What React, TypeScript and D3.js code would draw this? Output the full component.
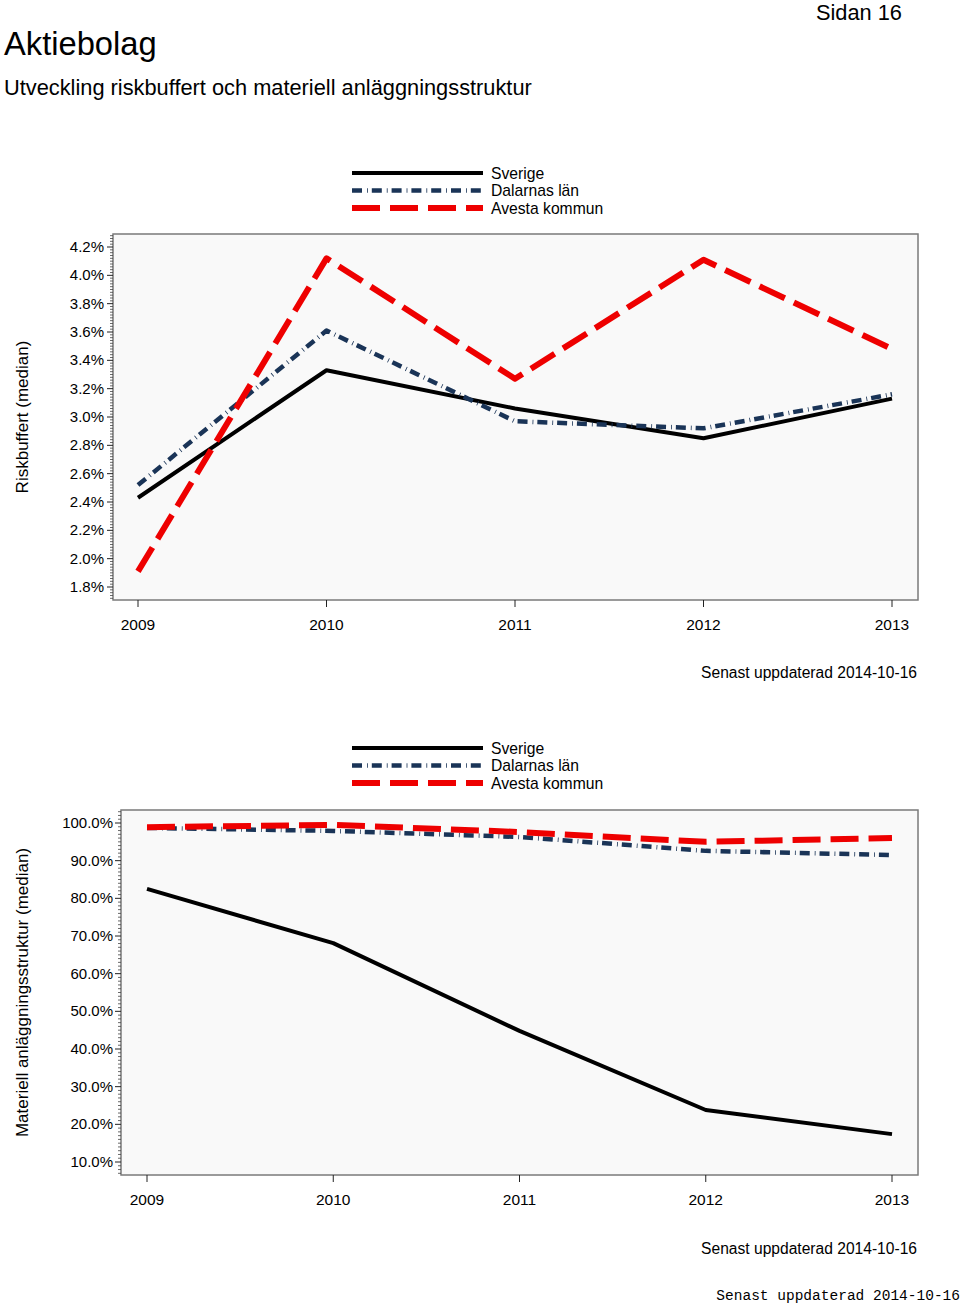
import React from "react";
import * as d3 from "d3";

const years = [2009, 2010, 2011, 2012, 2013];
const seriesNames = ["Sverige", "Dalarnas län", "Avesta kommun"];

const risk_sverige = [2.43, 3.33, 3.06, 2.85, 3.13];
const risk_dalarna = [2.52, 3.61, 2.97, 2.92, 3.16];
const risk_avesta = [1.91, 4.12, 3.27, 4.11, 3.48];

const mat_sverige = [82.5, 68.1, 44.8, 23.8, 17.4];
const mat_dalarna = [98.7, 97.9, 96.3, 92.6, 91.5];
const mat_avesta = [98.9, 99.5, 97.6, 95.0, 96.0];

const riskTicks = [1.8, 2.0, 2.2, 2.4, 2.6, 2.8, 3.0, 3.2, 3.4, 3.6, 3.8, 4.0, 4.2];
const matTicks = [10, 20, 30, 40, 50, 60, 70, 80, 90, 100];

const styles = [
  { color: "#000000", width: 4, dash: "none" },
  { color: "#1a3457", width: 4.5, dash: "10 5 0.8 4" },
  { color: "#ee0000", width: 6, dash: "28 10" },
];

const FONT = "'Liberation Sans', Arial, sans-serif";

type PanelProps = {
  legendY: number;
  x0: number;
  x1: number;
  y0: number;
  y1: number;
  xFirst: number;
  xLast: number;
  tickFirstY: number;
  tickLastY: number;
  ticks: number[];
  fmt: (v: number) => string;
  data: number[][];
  yLabel: string;
  labelRight: number;
  footY: number;
};

function Panel(p: PanelProps) {
  const x = d3.scaleLinear().domain([years[0], years[years.length - 1]]).range([p.xFirst, p.xLast]);
  const y = d3
    .scaleLinear()
    .domain([p.ticks[0], p.ticks[p.ticks.length - 1]])
    .range([p.tickLastY, p.tickFirstY]);
  const line = d3
    .line<number>()
    .x((_, i) => x(years[i]))
    .y((v) => y(v));
  const step = p.ticks[1] - p.ticks[0];
  const minor: number[] = [];
  for (let i = 0; i < p.ticks.length - 1; i++) {
    for (let k = 1; k < 10; k++) minor.push(p.ticks[i] + (step * k) / 10);
  }
  const lo = y.invert(p.y1);
  const hi = y.invert(p.y0);
  for (let k = 1; k < 10; k++) {
    const v1 = p.ticks[0] - (step * k) / 10;
    if (v1 > lo) minor.push(v1);
    const v2 = p.ticks[p.ticks.length - 1] + (step * k) / 10;
    if (v2 < hi) minor.push(v2);
  }
  const lx0 = 352;
  const lx1 = 483;
  return (
    <g>
      {seriesNames.map((n, i) => (
        <g key={n}>
          <line
            x1={lx0}
            x2={lx1}
            y1={p.legendY + i * 17.5}
            y2={p.legendY + i * 17.5}
            stroke={styles[i].color}
            strokeWidth={styles[i].width}
            strokeDasharray={styles[i].dash}
          />
          <text x={491} y={p.legendY + i * 17.5 + 5.5} fontSize={15.7} fontFamily={FONT} fill="#000">
            {n}
          </text>
        </g>
      ))}
      <rect x={p.x0} y={p.y0} width={p.x1 - p.x0} height={p.y1 - p.y0} fill="#f9f9f9" stroke="#7a7a7a" strokeWidth={1.5} />
      {minor.map((v, i) => (
        <line key={"m" + i} x1={p.x0 - 3} x2={p.x0} y1={y(v)} y2={y(v)} stroke="#444" strokeWidth={0.8} />
      ))}
      {p.ticks.map((t) => (
        <g key={t}>
          <line x1={p.x0 - 6} x2={p.x0} y1={y(t)} y2={y(t)} stroke="#222" strokeWidth={1} />
          <text x={p.labelRight} y={y(t) + 5} textAnchor="end" fontSize={15} fontFamily={FONT} fill="#000">
            {p.fmt(t)}
          </text>
        </g>
      ))}
      {years.map((yr) => (
        <g key={yr}>
          <line x1={x(yr)} x2={x(yr)} y1={p.y1} y2={p.y1 + 7} stroke="#222" strokeWidth={1} />
          <text x={x(yr)} y={p.y1 + 30} textAnchor="middle" fontSize={15.5} fontFamily={FONT} fill="#000">
            {yr}
          </text>
        </g>
      ))}
      {p.data.map((d, i) => (
        <path
          key={i}
          d={line(d) || ""}
          fill="none"
          stroke={styles[i].color}
          strokeWidth={styles[i].width}
          strokeDasharray={styles[i].dash}
          strokeLinejoin="round"
        />
      ))}
      <text
        transform={`translate(28,${(p.y0 + p.y1) / 2}) rotate(-90)`}
        textAnchor="middle"
        fontSize={17}
        fontFamily={FONT}
        fill="#000"
      >
        {p.yLabel}
      </text>
      <text x={917} y={p.footY} textAnchor="end" fontSize={15.6} fontFamily={FONT} fill="#000">
        Senast uppdaterad 2014-10-16
      </text>
    </g>
  );
}

export default function App() {
  return (
    <svg
      width={960}
      height={1306}
      style={{ position: "absolute", left: 0, top: 0, background: "#fff" }}
    >
      <rect x={0} y={0} width={960} height={1306} fill="#fff" />
      <text x={902} y={20} textAnchor="end" fontSize={21.8} fontFamily={FONT} fill="#000">
        Sidan 16
      </text>
      <text x={4} y={55} fontSize={32.7} fontFamily={FONT} fill="#000">
        Aktiebolag
      </text>
      <text x={4} y={95} fontSize={21.8} fontFamily={FONT} fill="#000">
        Utveckling riskbuffert och materiell anläggningsstruktur
      </text>
      <Panel
        legendY={173}
        x0={113}
        x1={918}
        y0={234}
        y1={600}
        xFirst={138}
        xLast={892}
        tickFirstY={247}
        tickLastY={587}
        ticks={riskTicks}
        fmt={(v) => v.toFixed(1) + "%"}
        data={[risk_sverige, risk_dalarna, risk_avesta]}
        yLabel="Riskbuffert (median)"
        labelRight={104}
        footY={678}
      />
      <Panel
        legendY={748}
        x0={121}
        x1={918}
        y0={810}
        y1={1175}
        xFirst={147}
        xLast={892}
        tickFirstY={823}
        tickLastY={1162}
        ticks={matTicks}
        fmt={(v) => v.toFixed(1) + "%"}
        data={[mat_sverige, mat_dalarna, mat_avesta]}
        yLabel="Materiell anläggningsstruktur (median)"
        labelRight={113}
        footY={1254}
      />
      <text x={960} y={1300} textAnchor="end" fontSize={14.5} fontFamily="'Liberation Mono', 'Courier New', monospace" fill="#000">
        Senast uppdaterad 2014-10-16
      </text>
    </svg>
  );
}
